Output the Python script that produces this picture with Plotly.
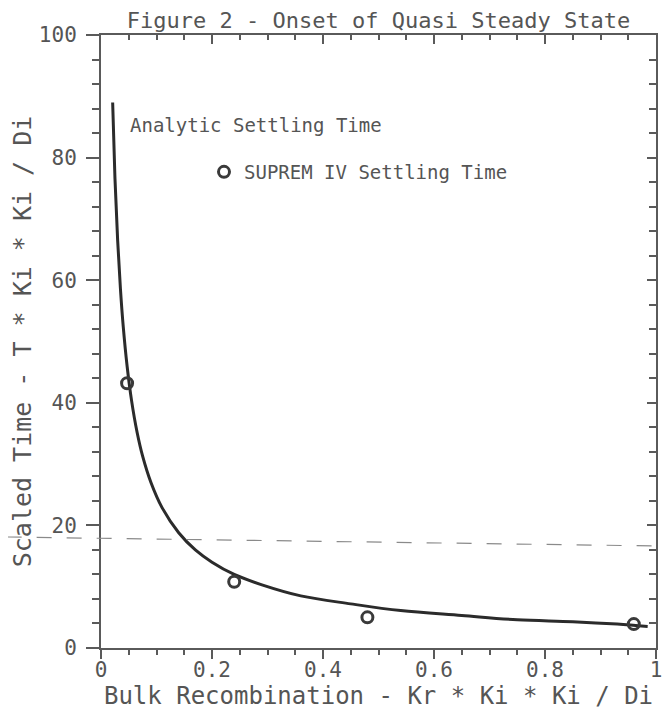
import plotly.graph_objects as go

# Analytic settling time curve
curve_x = [0.021, 0.025, 0.03, 0.035, 0.04, 0.047, 0.055, 0.065, 0.075, 0.09,
           0.11, 0.14, 0.17, 0.20, 0.24, 0.29, 0.36, 0.45, 0.54, 0.65,
           0.75, 0.85, 0.93, 0.985]
curve_y = [89.0, 77.0, 66.5, 58.6, 52.5, 46.0, 40.4, 35.2, 31.3, 27.0,
           22.9, 18.8, 16.0, 14.0, 12.0, 10.3, 8.5, 7.2, 6.1, 5.3,
           4.6, 4.3, 3.9, 3.5]

# SUPREM IV settling time points
sim_x = [0.047, 0.24, 0.48, 0.96]
sim_y = [43.2, 10.8, 5.0, 3.9]

x_ticks = [0, 0.2, 0.4, 0.6, 0.8, 1]
x_tick_text = ["0", "0.2", "0.4", "0.6", "0.8", "1"]
y_ticks = [0, 20, 40, 60, 80, 100]
y_tick_text = ["0", "20", "40", "60", "80", "100"]

FONT = "DejaVu Sans Mono"
INK = "#555555"
AX = "#5a5a5a"

# page body has an 8px margin; the figure is sized/margined to compensate
W, H = 663, 704
L, R, T, B = 93, 15, 27, 64

fig = go.Figure()
fig.add_trace(go.Scatter(
    x=curve_x, y=curve_y, mode="lines", name="Analytic Settling Time",
    line=dict(color="#2b2b2b", width=3, shape="spline"), showlegend=False))
fig.add_trace(go.Scatter(
    x=sim_x, y=sim_y, mode="markers", name="SUPREM IV Settling Time",
    marker=dict(symbol="circle-open", size=11, color="#3a3a3a",
                line=dict(width=3, color="#3a3a3a"))))
fig.add_trace(go.Scatter(x=[None], y=[None], xaxis="x2", yaxis="y2",
                         showlegend=False, hoverinfo="skip"))

common = dict(showgrid=False, zeroline=False, showline=True, linewidth=2,
              linecolor=AX, tickcolor=AX, tickwidth=2, automargin=False)

fig.update_layout(
    width=W, height=H,
    margin=dict(l=L, r=R, t=T, b=B),
    paper_bgcolor="white", plot_bgcolor="white",
    font=dict(family=FONT, color=INK, size=18),
    title=dict(text="Figure 2 - Onset of Quasi Steady State",
               x=0.5, xref="paper", y=1 - 12 / H, yref="container",
               xanchor="center", yanchor="middle",
               font=dict(family=FONT, size=22, color=INK)),
    xaxis=dict(range=[0, 1], tickvals=x_ticks, ticktext=x_tick_text,
               ticks="outside", ticklen=9, ticklabelstandoff=-7,
               minor=dict(dtick=0.05, ticks="outside", ticklen=5,
                          tickwidth=2, tickcolor=AX),
               tickfont=dict(size=21),
               title=dict(text="Bulk Recombination - Kr * Ki * Ki / Di",
                          font=dict(size=24), standoff=6),
               **common),
    xaxis2=dict(range=[0, 1], overlaying="x", side="top", anchor="y",
                tickvals=x_ticks, ticks="inside", ticklen=9,
                showticklabels=False,
                minor=dict(dtick=0.05, ticks="inside", ticklen=5,
                           tickwidth=2, tickcolor=AX),
                **common),
    yaxis=dict(range=[0, 100], tickvals=y_ticks, ticktext=y_tick_text,
               ticks="outside", ticklen=13, ticklabelstandoff=5,
               minor=dict(dtick=4, ticks="outside", ticklen=7,
                          tickwidth=2, tickcolor=AX),
               tickfont=dict(size=21),
               title=dict(text="Scaled Time - T * Ki * Ki / Di",
                          font=dict(size=25), standoff=4),
               **common),
    yaxis2=dict(range=[0, 100], overlaying="y", side="right", anchor="x",
                tickvals=y_ticks, ticks="inside", ticklen=9,
                showticklabels=False,
                minor=dict(dtick=4, ticks="inside", ticklen=7,
                           tickwidth=2, tickcolor=AX),
                **common),
    legend=dict(x=(204 - 101) / 555, y=(648 - 172) / 613, xanchor="left", yanchor="middle",
                bgcolor="rgba(0,0,0,0)", font=dict(family=FONT, size=19, color=INK)),
    annotations=[dict(text="Analytic Settling Time", xref="paper", yref="paper",
                      x=(128 - 101) / 555, y=(648 - 125) / 613,
                      xanchor="left", yanchor="middle", showarrow=False,
                      font=dict(family=FONT, size=19, color=INK))],
    shapes=[dict(type="line", xref="paper", yref="paper",
                 x0=-0.17, x1=1.006, y0=(648 - 537) / 613, y1=(648 - 546) / 613,
                 line=dict(color="#8a8a8a", width=1.2, dash="longdash"),
                 layer="above")],
)

fig.write_html("out.html")
